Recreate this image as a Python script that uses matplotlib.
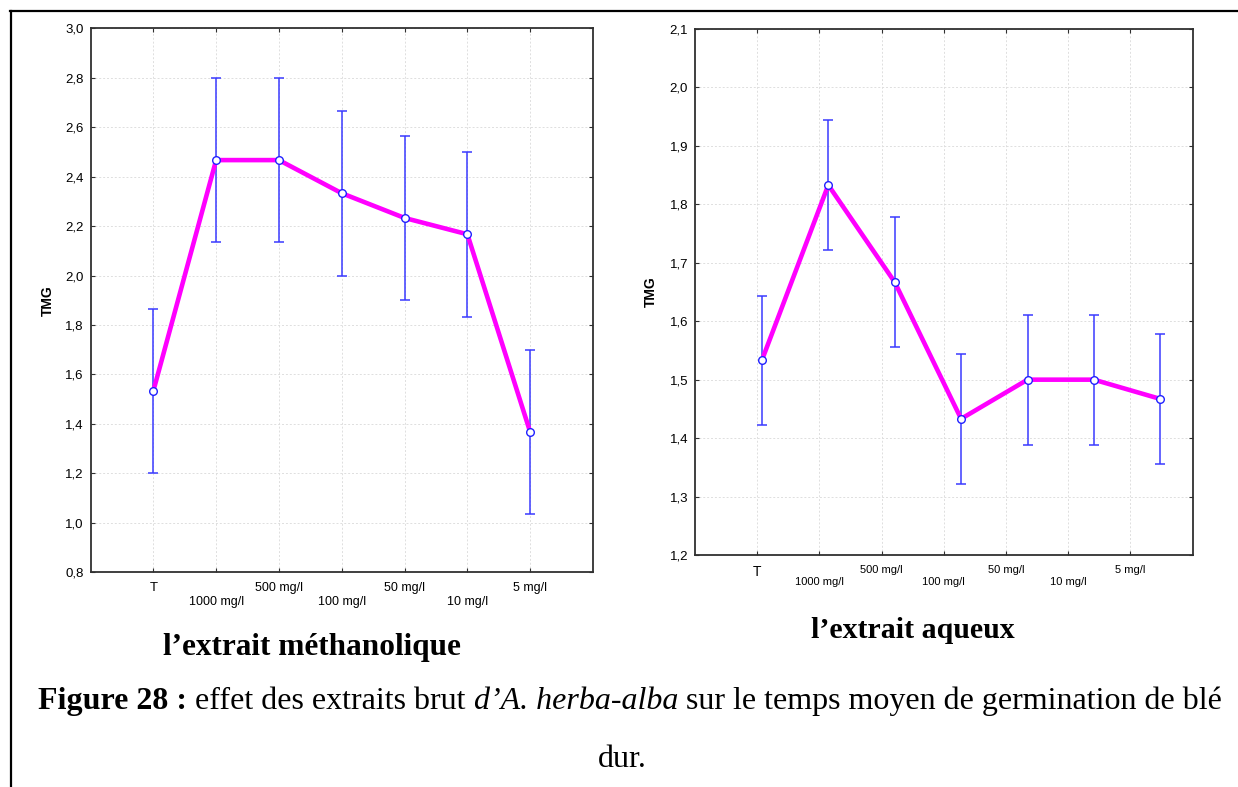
import numpy as np
import matplotlib
matplotlib.use("Agg")
import matplotlib.pyplot as plt
from matplotlib.lines import Line2D

categories = ["T", "1000 mg/l", "500 mg/l", "100 mg/l", "50 mg/l", "10 mg/l", "5 mg/l"]

# extrait méthanolique
tmg_meth = [1.533, 2.467, 2.467, 2.333, 2.233, 2.167, 1.367]
err_meth = [0.333, 0.333, 0.333, 0.333, 0.333, 0.333, 0.333]
yticks_meth = [0.8, 1.0, 1.2, 1.4, 1.6, 1.8, 2.0, 2.2, 2.4, 2.6, 2.8, 3.0]

# extrait aqueux
tmg_aq = [1.533, 1.833, 1.667, 1.433, 1.500, 1.500, 1.467]
err_aq = [0.111, 0.111, 0.111, 0.111, 0.111, 0.111, 0.111]
yticks_aq = [1.2, 1.3, 1.4, 1.5, 1.6, 1.7, 1.8, 1.9, 2.0, 2.1]

plt.rcParams["font.family"] = ["Liberation Sans", "DejaVu Sans"]

W, H = 1238, 787
fig = plt.figure(figsize=(W / 100, H / 100), dpi=100)


def axes_px(x0, x1, ytop, ybot):
    return fig.add_axes([x0 / W, (H - ybot) / H, (x1 - x0) / W, (ybot - ytop) / H])


def draw_panel(ax, xpos, vals, errs, yticks, lab_size, t_size):
    x = np.arange(len(categories))
    ax.set_xlim(-1, len(categories))
    ax.set_ylim(yticks[0], yticks[-1])
    ax.grid(True, color="#dedede", linestyle=(0, (2, 2)), linewidth=0.7)
    ax.set_axisbelow(True)
    ax.errorbar(xpos, vals, yerr=errs, fmt="none", ecolor="#3a3aff",
                elinewidth=1.1, capsize=3.5, capthick=1.1, zorder=2)
    ax.plot(xpos, vals, color="#ff00ff", lw=3.3, zorder=3)
    ax.plot(xpos, vals, "o", ms=5.5, mfc="white", mec="#2020ff", mew=1.0, zorder=4)

    labels = [c if i % 2 == 0 else "\n" + c for i, c in enumerate(categories)]
    ax.set_xticks(x, labels)
    for i, t in enumerate(ax.get_xticklabels()):
        t.set_fontsize(t_size if i == 0 else lab_size)
        t.set_linespacing(1.25)
    ax.set_yticks(yticks, [f"{v:.1f}".replace(".", ",") for v in yticks], fontsize=9.5)
    ax.tick_params(direction="in", length=3, width=0.8, top=True, right=True, color="#303030")
    ax.tick_params(axis="x", pad=7)
    ax.tick_params(axis="y", pad=5)
    for s in ax.spines.values():
        s.set_color("#303030")
        s.set_linewidth(1.3)
    ax.set_ylabel("TMG", fontsize=10, fontweight="bold")


ax1 = axes_px(90.5, 593, 28.3, 572.3)
draw_panel(ax1, np.arange(7), tmg_meth, err_meth, yticks_meth, 9, 9.5)
ax1.yaxis.set_label_coords(-0.07, 0.5)

ax2 = axes_px(695, 1192.5, 29, 555)
draw_panel(ax2, 0.075 + 1.068 * np.arange(7), tmg_aq, err_aq, yticks_aq, 8, 10)
ax2.yaxis.set_label_coords(-0.075, 0.5)

serif = ["Liberation Serif", "DejaVu Serif"]
fig.text(312 / W, 1 - 647 / H, "l\u2019extrait méthanolique", family=serif,
         fontsize=22.5, fontweight="bold", ha="center", va="center")
fig.text(913 / W, 1 - 631 / H, "l\u2019extrait aqueux", family=serif,
         fontsize=21.5, fontweight="bold", ha="center", va="center")

# légende de la figure, en plusieurs morceaux de styles différents
pieces = [
    ("Figure 28 :", "bold", "normal"),
    (" effet des extraits brut ", "normal", "normal"),
    ("d\u2019A. herba-alba", "normal", "italic"),
    (" sur le temps moyen de germination de blé", "normal", "normal"),
]
renderer = fig.canvas.get_renderer()
texts = []
for s, wgt, sty in pieces:
    t = fig.text(0, 1 - 709 / H, s, family=serif, fontsize=23, fontweight=wgt,
                 fontstyle=sty, ha="left", va="baseline")
    texts.append(t)
widths = [t.get_window_extent(renderer).width for t in texts]
x = 630 - sum(widths) / 2
for t, w in zip(texts, widths):
    t.set_x(x / W)
    x += w
fig.text(622 / W, 1 - 767 / H, "dur.", family=serif, fontsize=23, ha="center", va="baseline")

# cadre
fig.add_artist(Line2D([10 / W, 1], [1 - 10.5 / H, 1 - 10.5 / H], color="black", lw=1.6))
fig.add_artist(Line2D([10.5 / W, 10.5 / W], [0, 1 - 10.5 / H], color="black", lw=1.6))

fig.savefig("out.png", dpi=100)
